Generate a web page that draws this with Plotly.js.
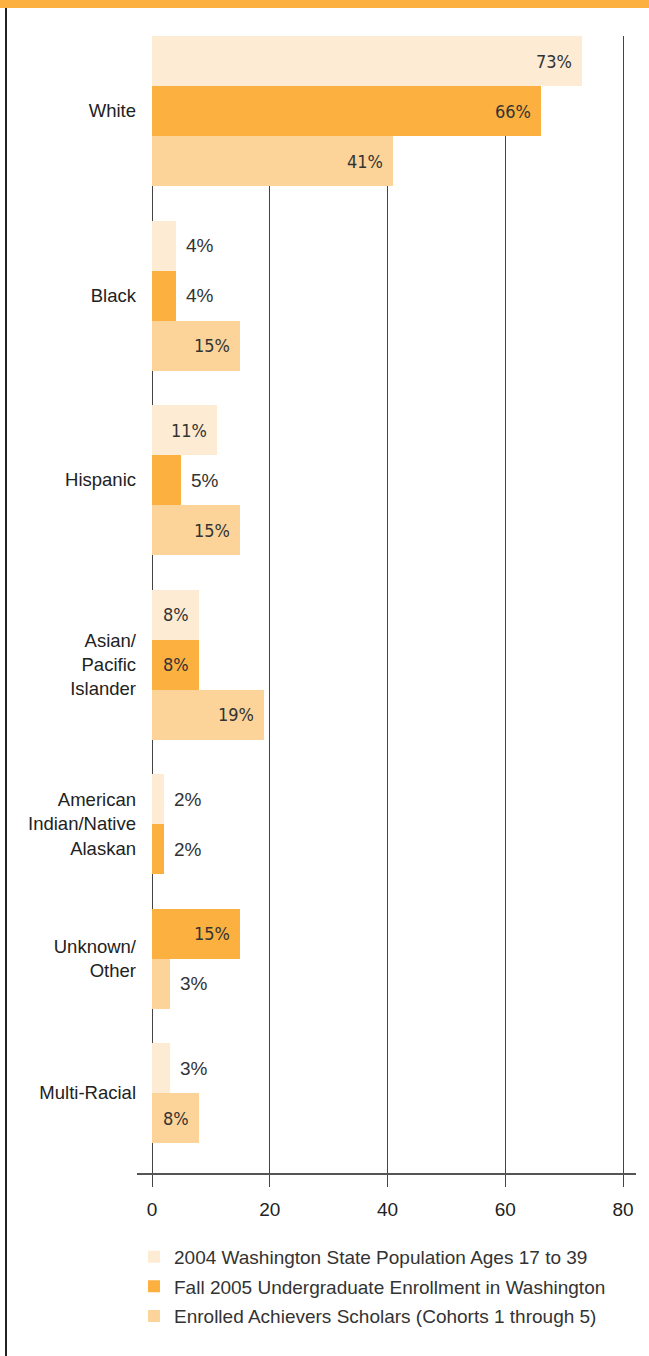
<!DOCTYPE html>
<html>
<head>
<meta charset="utf-8">
<script src="https://cdn.plot.ly/plotly-3.0.1.min.js"></script>
<style>
  html, body { margin: 0; padding: 0; background: #ffffff; }
  #wrap { position: relative; width: 649px; height: 1356px; overflow: hidden; }
  #topband { position: absolute; left: 0; top: 0; width: 649px; height: 8px; background: #FBB040; z-index: 2; }
  #leftrule { position: absolute; left: 5px; top: 8px; width: 2px; height: 1348px; background: #222222; z-index: 2; }
  #chart { position: absolute; left: 0; top: 0; width: 649px; height: 1356px; }
</style>
</head>
<body>
<div id="wrap">
  <div id="chart"></div>
  <div id="topband"></div>
  <div id="leftrule"></div>
</div>
<script>
// ---- data ----
const categories = ['White', 'Black', 'Hispanic', 'Asian/<br>Pacific<br>Islander',
  'American<br>Indian/Native<br>Alaskan', 'Unknown/<br>Other', 'Multi-Racial'];
const seriesNames = ['2004 Washington State Population Ages 17 to 39',
  'Fall 2005 Undergraduate Enrollment in Washington',
  'Enrolled Achievers Scholars (Cohorts 1 through 5)'];
const population = [73, 4, 11, 8, 2, null, 3];
const enrollment = [66, 4, 5, 8, 2, 15, null];
const scholars   = [41, 15, 15, 19, null, 3, 8];
const xTicks = [0, 20, 40, 60, 80];

// ---- style ----
const colors = ['#FDEBD3', '#FBB040', '#FCD49A'];
const FONT = '"Liberation Sans", Arial, Helvetica, sans-serif';
const NARROW = '"Liberation Sans Narrow", "DejaVu Sans Condensed", "Arial Narrow", "Liberation Sans", sans-serif';
const GAP = 0.69;       // gap between category groups, in bar units
const BOTTOM_PAD = 0.6; // space below last bar, in bar units
const INSIDE_MIN = 8;   // values at or above are labelled inside the bar

const series = [population, enrollment, scholars];

// assign slot positions (missing bars are packed out)
const ys = series.map(() => []);
const xs = series.map(() => []);
const tickVals = [];
let pos = 0;
categories.forEach((c, i) => {
  const start = pos;
  series.forEach((s, k) => {
    if (s[i] !== null && s[i] !== undefined) {
      xs[k].push(s[i]);
      ys[k].push(pos + 0.5);
      pos += 1;
    }
  });
  tickVals.push((start + pos) / 2);
  if (i < categories.length - 1) pos += GAP;
});
const yEnd = pos + BOTTOM_PAD;

const traces = series.map((s, k) => ({
  type: 'bar',
  orientation: 'h',
  name: seriesNames[k],
  legendgroup: 'g' + k,
  x: xs[k],
  y: ys[k],
  width: 1,
  marker: { color: colors[k], line: { width: 0 } },
  hoverinfo: 'x+name'
}));

const annotations = [];
series.forEach((s, k) => {
  xs[k].forEach((v, j) => {
    const inside = v >= INSIDE_MIN;
    annotations.push({
      x: v, y: ys[k][j], xref: 'x', yref: 'y',
      text: v + '%', showarrow: false,
      xanchor: inside ? 'right' : 'left',
      yanchor: 'middle',
      xshift: inside ? -8 : 8,
      font: inside ? { family: NARROW, size: 18, color: '#333333' }
                   : { family: FONT, size: 19, color: '#333333' }
    });
  });
});

const layout = {
  width: 649, height: 1356,
  margin: { l: 137, r: 13, t: 36, b: 183 },
  paper_bgcolor: '#ffffff', plot_bgcolor: '#ffffff',
  font: { family: FONT, size: 19, color: '#222222' },
  barmode: 'overlay',
  bargap: 0,
  showlegend: true,
  legend: {
    orientation: 'v', traceorder: 'grouped', tracegroupgap: 2,
    x: -0.006, xanchor: 'left', y: -0.057, yanchor: 'top',
    font: { family: FONT, size: 19, color: '#333333' },
    bgcolor: 'rgba(0,0,0,0)', borderwidth: 0,
    itemclick: false, itemdoubleclick: false
  },
  xaxis: {
    range: [-2.55, 82.2],
    tickvals: xTicks, ticktext: xTicks.map(String),
    showgrid: true, gridcolor: '#444444', gridwidth: 1,
    zeroline: true, zerolinecolor: '#444444', zerolinewidth: 1,
    showline: true, linecolor: '#555555', linewidth: 1.5,
    ticks: 'outside', ticklen: 12, tickcolor: '#444444', tickwidth: 1,
    ticklabelstandoff: 7,
    tickfont: { family: FONT, size: 19, color: '#222222' },
    fixedrange: true
  },
  yaxis: {
    range: [yEnd, 0],
    tickvals: tickVals, ticktext: categories,
    showgrid: false, zeroline: false, showline: false,
    ticks: '',
    tickfont: { family: FONT, size: 18.5, color: '#222222' },
    fixedrange: true
  },
  annotations: annotations
};

Plotly.newPlot('chart', traces, layout, { displayModeBar: false, staticPlot: true });
</script>
</body>
</html>
